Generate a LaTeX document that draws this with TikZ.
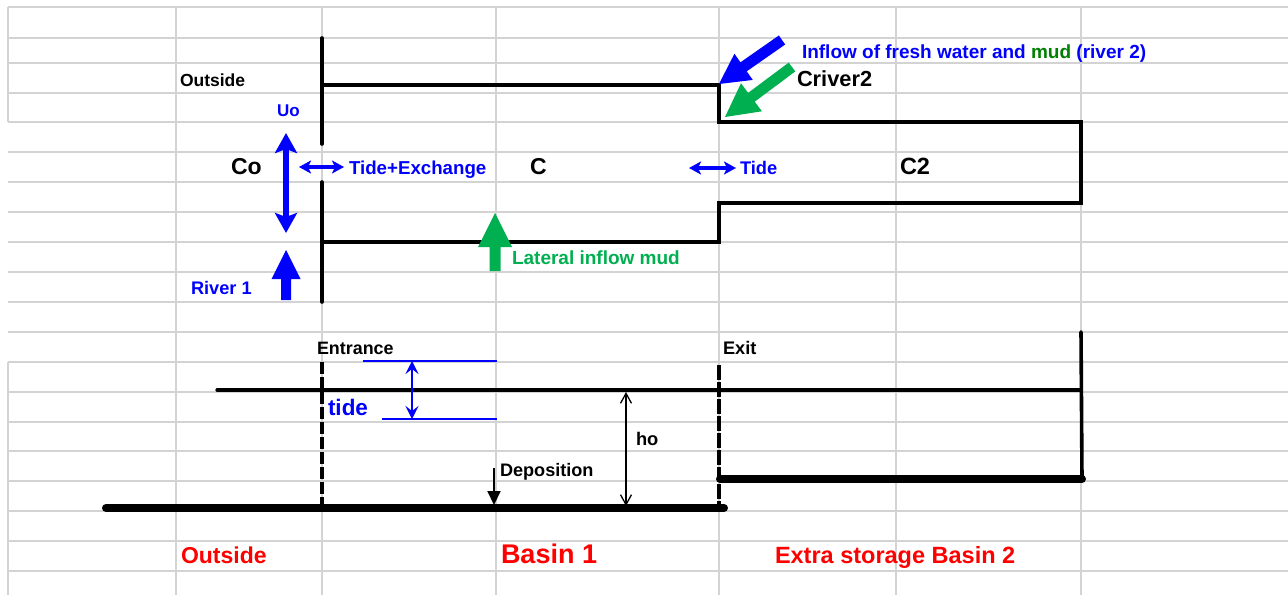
\documentclass[tikz,border=0pt]{standalone}
\usepackage{fontspec}
\setmainfont{Liberation Sans}
\usetikzlibrary{arrows.meta,calc}

\definecolor{gridgray}{RGB}{211,211,211}
\definecolor{xlblue}{RGB}{0,0,255}
\definecolor{xlgreen}{RGB}{0,176,80}
\definecolor{mudgreen}{RGB}{0,128,0}
\definecolor{xlred}{RGB}{255,0,0}

% filled block arrow: colour, tail, tip, half shaft width, half head width, head length
\newcommand\blockarrow[6]{%
  \fill[#1] ($(#2)!#4!90:(#3)$)
    -- ($(#3)!#6!(#2)!#4!-90:(#2)$)
    -- ($(#3)!#6!(#2)!#5!-90:(#2)$)
    -- (#3)
    -- ($(#3)!#6!(#2)!#5!90:(#2)$)
    -- ($(#3)!#6!(#2)!#4!90:(#2)$)
    -- ($(#2)!#4!-90:(#3)$) -- cycle;}

\tikzset{
  lbl/.style={anchor=base west, inner sep=0pt, outer sep=0pt,
              font=\fontsize{#1}{#1}\selectfont\bfseries},
  gridline/.style={draw=gridgray, line width=1.1pt},
  wall/.style={draw=black, line width=3.6pt, line cap=round, line join=miter},
  bed/.style={draw=black, line width=8pt, line cap=round},
  gate/.style={draw=black, line width=4pt, dash pattern=on 12pt off 3pt},
  bigflow/.style={draw=xlblue, line width=5.5pt,
     {Stealth[length=20pt,width=22pt,inset=4pt]}-{Stealth[length=20pt,width=22pt,inset=4pt]}},
  smallflow/.style={draw=xlblue, line width=3.2pt,
     {Stealth[length=12pt,width=13pt,inset=3pt]}-{Stealth[length=12pt,width=13pt,inset=3pt]}},
  tiderange/.style={draw=xlblue, line width=2pt,
     {Stealth[length=13pt,width=13pt,inset=5pt]}-{Stealth[length=13pt,width=13pt,inset=5pt]}},
  depth/.style={draw=black, line width=1.3pt,
     {Straight Barb[length=10pt,width=11pt]}-{Straight Barb[length=10pt,width=11pt]}},
  settle/.style={draw=black, line width=2pt, -{Triangle[length=14pt,width=13pt]}},
}

\begin{document}
\begin{tikzpicture}[x=1pt,y=-1pt]
\useasboundingbox (0,0) rectangle (1288,595);
\fill[white] (0,0) rectangle (1288,595);

% spreadsheet grid
\foreach \y in {7,38,63,93,122,152,182,212,242,272,302,332,362,392,422,451,481,511,541,571}
  \draw[gridline] (8,\y) -- (1288,\y);
\foreach \x in {176,322,496,719,896,1081}
  \draw[gridline] (\x,7) -- (\x,595);
\draw[gridline] (8,7) -- (8,122);
\draw[gridline] (8,362) -- (8,595);

% ---------- plan view ----------
\coordinate (wallTop) at (322,38);
\coordinate (wallGapTop) at (322,144);
\coordinate (wallGapBot) at (322,182);
\coordinate (wallBot) at (322,302);
\draw[wall] (wallTop) -- (wallGapTop);
\draw[wall] (wallGapBot) -- (wallBot);
\draw[wall] (322,85) -- (719,85) -- (719,122) -- (1081,122) -- (1081,203)
  -- (719,203) -- (719,242) -- (322,242);

% flows
\coordinate (uoTop) at (286,133);
\coordinate (uoBot) at (286,233);
\draw[bigflow] (uoTop) -- (uoBot);

\coordinate (exL) at (299,167);
\coordinate (exR) at (344,167);
\draw[smallflow] (exL) -- (exR);

\coordinate (tdL) at (689,168);
\coordinate (tdR) at (736,168);
\draw[smallflow] (tdL) -- (tdR);

\coordinate (r1Tail) at (286,300);
\coordinate (r1Tip) at (286,250);
\blockarrow{xlblue}{r1Tail}{r1Tip}{5pt}{14.5pt}{29pt}

\coordinate (latTail) at (495,271);
\coordinate (latTip) at (495,213);
\blockarrow{xlgreen}{latTail}{latTip}{5.5pt}{17pt}{34pt}

\coordinate (r2Tail) at (782,40);
\coordinate (r2Tip) at (719,84);
\blockarrow{xlblue}{r2Tail}{r2Tip}{5.5pt}{16pt}{30pt}

\coordinate (mudTail) at (792,67);
\coordinate (mudTip) at (725,117);
\blockarrow{xlgreen}{mudTail}{mudTip}{5.5pt}{17.5pt}{33pt}

% plan labels
\node[lbl=17.5] (outsideTop) at (180,86) {Outside};
\node[lbl=17, text=xlblue] (uo) at (277,116.5) {Uo};
\node[lbl=23] (co) at (231,174) {Co};
\node[lbl=18.7, text=xlblue] (tideExch) at (349,174) {Tide+Exchange};
\node[lbl=23] (cBasin) at (530,174) {C};
\node[lbl=18.3, text=xlblue] (tideExit) at (740,174) {Tide};
\node[lbl=23.5] (cTwo) at (900,174) {C2};
\node[lbl=19, text=xlblue] (inflow) at (802,58)
  {Inflow of fresh water and \textcolor{mudgreen}{mud} (river 2)};
\node[lbl=21.8] (criver) at (797,86) {Criver2};
\node[lbl=19, text=xlgreen] (lateral) at (512,264) {Lateral inflow mud};
\node[lbl=18.2, text=xlblue] (riverOne) at (191,294) {River 1};

% ---------- longitudinal section ----------
\coordinate (wlL) at (217,390);
\coordinate (wlR) at (1081,390);
\draw[wall, line width=3.2pt] (wlL) -- (wlR);

\coordinate (bed1L) at (106,508);
\coordinate (bed1R) at (724,508);
\draw[bed] (bed1L) -- (bed1R);

\coordinate (bed2L) at (720,479);
\coordinate (bed2R) at (1082,479);
\draw[bed] (bed2L) -- (bed2R);

\coordinate (endTop) at (1081,332);
\draw[wall] (endTop) -- (bed2R);

\coordinate (entTop) at (322,362);
\coordinate (entBot) at (322,508);
\draw[gate] (entTop) -- (entBot);
\coordinate (exitTop) at (719,365);
\coordinate (exitBot) at (719,508);
\draw[gate, dash pattern=on 15pt off 2pt] (exitTop) -- (exitBot);

% tidal range
\coordinate (hwL) at (363,361);
\coordinate (hwR) at (497,361);
\coordinate (lwL) at (382,419);
\coordinate (lwR) at (497,419);
\draw[xlblue, line width=2pt] (hwL) -- (hwR);
\draw[xlblue, line width=2pt] (lwL) -- (lwR);
\coordinate (trTop) at (412,361);
\coordinate (trBot) at (412,419);
\draw[tiderange] (trTop) -- (trBot);

% depth and deposition
\coordinate (hoTop) at (626,392);
\coordinate (hoBot) at (626,506);
\draw[depth] (hoTop) -- (hoBot);
\coordinate (depTail) at (494,468);
\coordinate (depTip) at (494,505);
\draw[settle] (depTail) -- (depTip);

% section labels
\node[lbl=17.9] (entrance) at (317,354) {Entrance};
\node[lbl=18.2] (exit) at (723,354) {Exit};
\node[lbl=22.5, text=xlblue] (tideLbl) at (328,415) {tide};
\node[lbl=18.3] (ho) at (636,445) {ho};
\node[lbl=18.1] (deposition) at (500,476) {Deposition};
\node[lbl=23, text=xlred] (outsideBot) at (181,563) {Outside};
\node[lbl=27, text=xlred] (basinOne) at (501,563) {Basin 1};
\node[lbl=23.5, text=xlred] (basinTwo) at (775,563) {Extra storage Basin 2};
\end{tikzpicture}
\end{document}
